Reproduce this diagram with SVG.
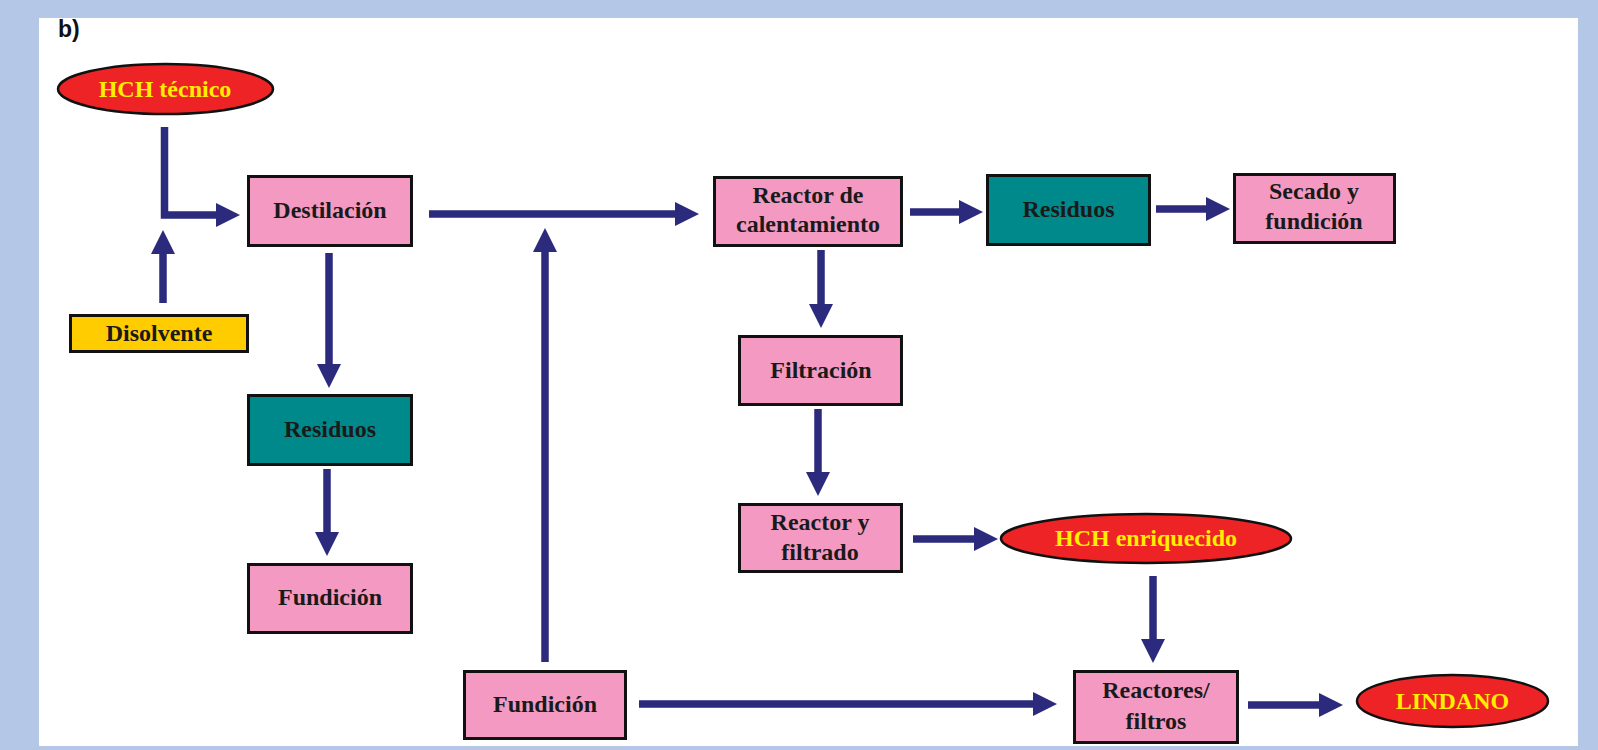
<svg xmlns="http://www.w3.org/2000/svg" width="1598" height="750" viewBox="0 0 1598 750">
<defs>
<style>
.box{stroke:#111;stroke-width:3}
.pink{fill:#F49AC2}
.teal{fill:#00898A}
.yel{fill:#FFCC00}
.ell{fill:#EE2326;stroke:#111;stroke-width:2.5}
.lbl{font-family:"Liberation Serif","Times New Roman",serif;font-weight:bold;font-size:24px;fill:#1a1a1a;text-anchor:middle}
.elbl{font-family:"Liberation Serif","Times New Roman",serif;font-weight:bold;font-size:24px;fill:#FFEE00;text-anchor:middle}
.arr{fill:none;stroke:#2B2A7C;stroke-width:7.5;stroke-linejoin:miter;stroke-linecap:butt;marker-end:url(#ah)}
</style>
<marker id="ah" viewBox="0 -12 24 24" refX="1" refY="0" markerWidth="24" markerHeight="24" markerUnits="userSpaceOnUse" orient="auto">
<path d="M0,-12 L24,0 L0,12 Z" fill="#2B2A7C"/>
</marker>
</defs>
<rect x="0" y="0" width="1598" height="750" fill="#B4C7E7"/>
<rect x="39" y="18" width="1539" height="728" fill="#FFFFFF"/>
<text x="58" y="37" font-family="Liberation Sans, Arial, sans-serif" font-weight="bold" font-size="23" fill="#111">b)</text>

<g id="connectors">
<path class="arr" d="M164.5,127 V215 H217"/>
<path class="arr" d="M163,303 V253"/>
<path class="arr" d="M429,214 H676"/>
<path class="arr" d="M545,662 V251"/>
<path class="arr" d="M910,212 H960"/>
<path class="arr" d="M1156,209 H1207"/>
<path class="arr" d="M821,250 V305"/>
<path class="arr" d="M818,409 V473"/>
<path class="arr" d="M913,539 H975"/>
<path class="arr" d="M1153,576 V640"/>
<path class="arr" d="M639,704 H1034"/>
<path class="arr" d="M1248,705 H1320"/>
<path class="arr" d="M329,253 V365"/>
<path class="arr" d="M327,469 V533"/>
</g>

<g id="hch-tecnico">
<ellipse class="ell" cx="165.5" cy="89" rx="107.5" ry="25"/>
<text class="elbl" x="165" y="97">HCH técnico</text>
</g>
<g id="destilacion">
<rect class="box pink" x="248.5" y="176.5" width="163" height="69"/>
<text class="lbl" x="330" y="218">Destilación</text>
</g>
<g id="disolvente">
<rect class="box yel" x="70.5" y="315.5" width="177" height="36"/>
<text class="lbl" x="159" y="341">Disolvente</text>
</g>
<g id="residuos-1">
<rect class="box teal" x="248.5" y="395.5" width="163" height="69"/>
<text class="lbl" x="330" y="437">Residuos</text>
</g>
<g id="fundicion-1">
<rect class="box pink" x="248.5" y="564.5" width="163" height="68"/>
<text class="lbl" x="330" y="605">Fundición</text>
</g>
<g id="fundicion-2">
<rect class="box pink" x="464.5" y="671.5" width="161" height="67"/>
<text class="lbl" x="545" y="712">Fundición</text>
</g>
<g id="reactor-calentamiento">
<rect class="box pink" x="714.5" y="177.5" width="187" height="68"/>
<text class="lbl" x="808" y="203">Reactor de</text>
<text class="lbl" x="808" y="232">calentamiento</text>
</g>
<g id="residuos-2">
<rect class="box teal" x="987.5" y="175.5" width="162" height="69"/>
<text class="lbl" x="1068.5" y="217">Residuos</text>
</g>
<g id="secado-fundicion">
<rect class="box pink" x="1234.5" y="174.5" width="160" height="68"/>
<text class="lbl" x="1314" y="199">Secado y</text>
<text class="lbl" x="1314" y="229">fundición</text>
</g>
<g id="filtracion">
<rect class="box pink" x="739.5" y="336.5" width="162" height="68"/>
<text class="lbl" x="821" y="378">Filtración</text>
</g>
<g id="reactor-filtrado">
<rect class="box pink" x="739.5" y="504.5" width="162" height="67"/>
<text class="lbl" x="820" y="530">Reactor y</text>
<text class="lbl" x="820" y="560">filtrado</text>
</g>
<g id="hch-enriquecido">
<ellipse class="ell" cx="1146" cy="538.5" rx="145" ry="24.5"/>
<text class="elbl" x="1146" y="546">HCH enriquecido</text>
</g>
<g id="reactores-filtros">
<rect class="box pink" x="1074.5" y="671.5" width="163" height="71"/>
<text class="lbl" x="1156" y="698">Reactores/</text>
<text class="lbl" x="1156" y="729">filtros</text>
</g>
<g id="lindano">
<ellipse class="ell" cx="1452.5" cy="701" rx="95.5" ry="26"/>
<text class="elbl" x="1452.5" y="709">LINDANO</text>
</g>
</svg>
